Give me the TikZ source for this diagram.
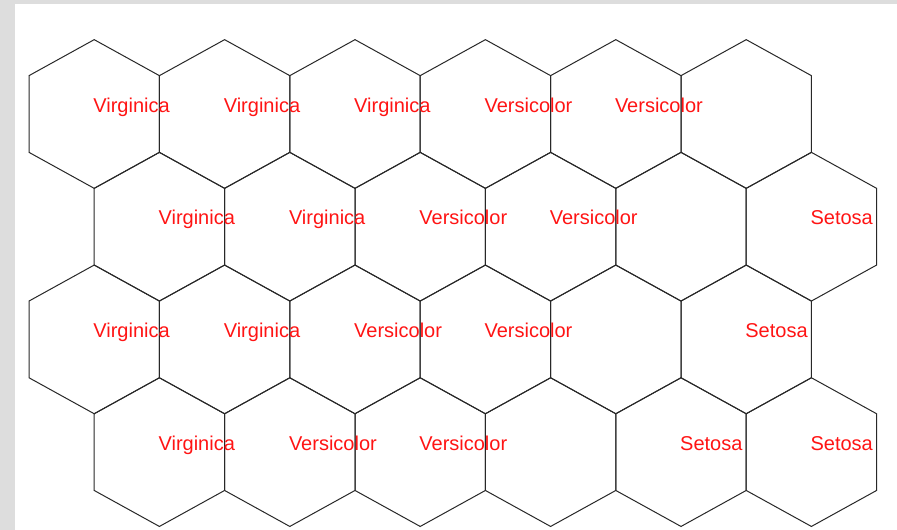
\documentclass[tikz,border=0pt]{standalone}
\usepackage{fontspec}
\setmainfont{Liberation Sans}
\usepackage{xcolor}
\definecolor{panelgray}{RGB}{221,221,221}
\definecolor{labelred}{RGB}{255,20,20}
\definecolor{gridline}{RGB}{40,40,40}
\tikzset{
  hexline/.style={draw=gridline, line width=1pt, line join=miter},
  classlabel/.style={text=labelred, anchor=base west, inner sep=0pt,
    font=\fontsize{20}{22}\selectfont}
}

\begin{document}
\begin{tikzpicture}[x=1pt, y=-1pt]
  \useasboundingbox (0,0) rectangle (897,530);
  \fill[panelgray] (0,0) rectangle (897,530);
  \fill[white] (15,4) rectangle (897,530);
  % hexagon map, 4 rows of 6
  \foreach \r in {0,...,3} {
    \foreach \c in {0,...,5} {
      \pgfmathsetmacro{\cx}{94.2+130.4*\c+65.2*mod(\r,2)}
      \pgfmathsetmacro{\cy}{114+112.7*\r}
      \coordinate (hex-\r-\c) at (\cx,\cy);
      \draw[hexline] (hex-\r-\c) ++(0,-74.35) -- ++(65.2,36) -- ++(0,76.7)
        -- ++(-65.2,36) -- ++(-65.2,-36) -- ++(0,-76.7) -- cycle;
    }
  }
  % class of each cell
  \foreach \r/\c/\name in {0/0/Virginica, 0/1/Virginica, 0/2/Virginica, 0/3/Versicolor, 0/4/Versicolor,
      1/0/Virginica, 1/1/Virginica, 1/2/Versicolor, 1/3/Versicolor, 1/5/Setosa,
      2/0/Virginica, 2/1/Virginica, 2/2/Versicolor, 2/3/Versicolor, 2/5/Setosa,
      3/0/Virginica, 3/1/Versicolor, 3/2/Versicolor, 3/4/Setosa, 3/5/Setosa} {
    \node[classlabel] (lbl-\r-\c) at ([xshift=-1pt, yshift=2pt]hex-\r-\c) {\name};
  }
\end{tikzpicture}
\end{document}
